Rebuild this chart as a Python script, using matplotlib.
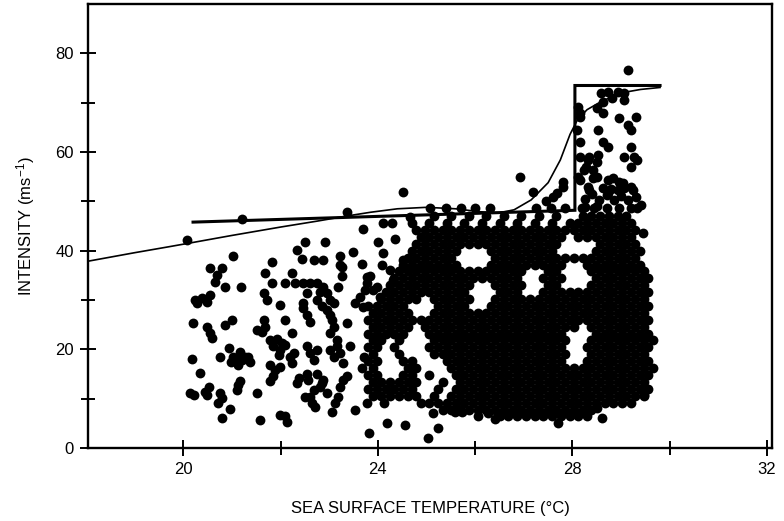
import numpy as np
import matplotlib.pyplot as plt

plt.rcParams['font.family'] = ['Liberation Sans', 'DejaVu Sans']
plt.rcParams['mathtext.default'] = 'regular'

# scattered storms on the cool side (SST, intensity)
cool_pts = [
    (20.08, 42.2), (21.21, 46.4), (23.37, 47.9), (24.52, 52.0), (21.03, 38.9),
    (21.82, 37.8), (22.34, 40.2), (22.50, 41.8), (22.45, 38.3), (22.92, 41.8),
    (22.68, 38.1), (22.88, 38.1), (23.23, 38.9), (23.49, 39.8), (23.27, 36.7),
    (23.67, 37.3), (23.70, 44.4), (24.00, 41.8), (24.36, 42.4), (24.11, 45.6),
    (24.30, 45.6), (24.67, 46.9), (24.09, 37.1), (24.25, 36.1), (24.11, 39.6),
    (23.78, 34.7), (23.90, 32.0), (24.32, 34.1), (24.52, 38.1),
    (20.55, 36.4), (20.79, 36.4), (20.69, 35.1), (20.65, 33.7), (20.86, 32.7),
    (21.18, 32.6), (20.24, 30.0), (20.38, 30.4), (20.55, 31.0), (20.48, 29.7),
    (20.28, 29.3), (20.19, 25.3), (20.48, 24.6), (20.55, 23.3), (20.59, 22.3),
    (20.86, 24.9), (21.00, 26.0), (20.17, 18.0), (20.35, 15.3), (20.76, 18.4),
    (20.93, 20.2), (21.03, 18.5), (21.17, 19.5), (21.27, 18.5), (21.37, 17.5),
    (21.13, 16.8), (20.99, 17.5), (21.20, 17.9), (21.10, 18.2), (21.34, 18.5),
    (20.14, 11.1), (20.21, 10.7), (20.45, 11.4), (20.48, 10.7), (20.52, 12.4),
    (20.76, 11.1), (20.79, 10.1), (20.72, 9.1), (20.96, 8.0), (20.79, 6.0),
    (21.13, 12.8), (21.17, 13.5), (21.10, 11.8), (21.52, 11.1), (21.57, 5.7),
    (21.99, 6.7), (22.09, 6.4), (22.13, 5.3), (21.68, 35.4), (21.82, 33.4),
    (21.65, 31.4), (21.72, 30.0), (21.99, 29.0), (22.09, 25.9), (21.51, 23.9),
    (21.65, 26.0), (21.68, 24.6), (21.61, 23.6), (22.23, 35.4), (22.09, 33.4),
    (22.30, 33.4), (22.23, 23.3), (21.79, 21.9), (21.92, 22.2), (21.85, 20.6),
    (22.03, 21.2), (21.99, 19.9), (22.09, 20.9), (21.96, 18.9), (21.79, 16.8),
    (21.89, 15.8), (21.99, 16.5), (21.85, 14.5), (21.79, 13.5), (22.20, 18.5),
    (22.23, 17.2), (22.27, 19.2), (22.37, 14.1), (22.33, 13.1), (22.54, 15.1),
    (22.57, 13.8), (22.51, 10.4), (22.64, 9.1), (22.71, 8.4), (22.54, 20.6),
    (22.61, 19.2), (22.68, 17.9), (22.75, 19.9), (22.47, 33.4), (22.61, 33.4),
    (22.75, 33.4), (22.88, 32.7), (22.95, 31.4), (23.02, 30.0), (22.81, 31.7),
    (22.75, 30.0), (22.54, 31.4), (22.47, 29.3), (22.47, 28.3), (22.54, 27.0),
    (22.95, 28.0), (23.05, 26.0), (23.09, 24.6), (23.02, 27.0), (22.85, 28.7),
    (23.09, 29.3), (22.61, 25.6), (23.19, 32.7), (23.26, 34.8), (23.23, 37.1),
    (23.84, 34.8), (23.77, 33.4), (23.74, 32.0), (23.64, 30.7), (23.53, 29.3),
    (23.98, 32.7), (23.36, 25.3), (23.43, 20.6), (23.02, 23.3), (23.16, 21.9),
    (23.23, 19.2), (23.29, 17.2), (23.09, 18.5), (23.02, 19.9), (23.16, 20.6),
    (22.75, 15.1), (22.88, 13.8), (22.81, 12.4), (22.68, 11.8), (22.61, 10.4),
    (22.95, 11.1), (22.85, 13.1), (23.29, 13.8), (23.36, 14.5), (23.23, 12.4),
    (23.19, 10.4), (23.12, 9.1), (23.05, 7.4), (23.53, 7.7), (23.77, 9.1),
    (24.12, 9.1), (23.71, 18.5), (23.67, 16.3), (23.70, 28.6), (24.05, 30.6),
]

# stragglers under the dense block
low_pts = [
    (24.19, 5.0), (24.56, 4.7), (23.81, 3.0), (25.04, 2.0), (25.24, 4.1),
    (25.14, 7.1), (25.58, 7.3), (25.72, 7.3), (26.05, 6.5), (26.27, 7.1),
    (26.40, 5.9), (27.70, 5.1), (28.50, 8.1), (28.60, 6.1), (29.46, 10.8),
]

# warm side above the dense block
warm_pts = [
    (29.15, 76.7), (28.58, 72.0), (28.72, 72.2), (28.93, 72.2), (29.05, 72.0),
    (28.62, 70.2), (28.82, 71.0), (29.05, 70.6), (28.12, 69.2), (28.16, 68.0),
    (28.51, 69.0), (28.62, 68.0), (28.95, 66.9), (29.30, 67.1), (29.15, 65.5),
    (29.20, 64.5), (28.53, 64.5), (28.10, 64.5), (28.16, 62.1), (28.62, 62.1),
    (28.72, 61.1), (28.53, 59.4), (29.20, 61.1), (29.05, 59.0), (29.26, 59.0),
    (29.20, 57.0), (29.33, 58.4), (28.33, 59.0), (28.27, 57.0), (28.50, 58.0),
    (28.43, 56.4), (28.12, 55.0), (28.43, 54.8), (28.62, 52.7), (28.33, 52.3),
    (28.74, 54.4), (28.84, 54.8), (29.03, 53.8), (29.20, 52.9), (28.93, 52.3),
    (28.72, 51.7), (29.33, 48.7), (29.44, 43.6), (28.16, 67.1), (28.16, 59.0),
    (28.31, 58.4), (28.23, 56.4), (28.16, 54.4), (28.31, 52.9), (28.51, 55.0),
    (28.25, 50.5), (28.40, 51.5), (28.55, 50.2), (28.70, 51.2), (28.85, 50.3),
    (29.00, 51.0), (29.15, 50.2), (29.30, 50.8), (28.80, 52.5), (29.05, 52.8),
    (29.25, 52.3), (28.95, 54.0), (28.25, 48.9), (28.50, 49.0), (29.40, 49.3),
    (27.18, 52.0), (26.93, 55.0), (27.60, 50.9), (27.69, 51.7), (27.80, 52.9),
    (27.81, 54.0), (27.45, 50.0),
]

# the solid mass of points, read row by row (intensity, SSTs)
dense_rows = [
    (6.4, [26.50, 26.68, 26.86, 27.04, 27.22, 27.40, 27.58, 27.76, 27.94, 28.12, 28.30]),
    (7.8, [25.33, 25.51, 25.69, 25.87, 26.05, 26.23, 26.41, 26.59, 26.77, 26.95, 27.13, 27.31,
           27.49, 27.67, 27.85, 28.03, 28.21, 28.39]),
    (9.2, [24.88, 25.06, 25.24, 25.42, 25.60, 25.78, 25.96, 26.14, 26.32, 26.50, 26.68, 26.86,
           27.04, 27.22, 27.40, 27.58, 27.76, 27.94, 28.12, 28.30, 28.48, 28.66, 28.84, 29.02, 29.20]),
    (10.6, [23.89, 24.07, 24.25, 24.43, 24.61, 24.79, 25.15, 25.51, 25.69, 25.87, 26.05, 26.23,
            26.41, 26.59, 26.77, 26.95, 27.13, 27.31, 27.49, 27.67, 27.85, 28.03, 28.21, 28.39,
            28.57, 28.75, 28.93, 29.11, 29.29, 29.47]),
    (12.0, [23.80, 23.98, 24.16, 24.34, 24.52, 24.70, 25.24, 25.60, 25.78, 25.96, 26.14, 26.32,
            26.50, 26.68, 26.86, 27.04, 27.22, 27.40, 27.58, 27.76, 27.94, 28.12, 28.30, 28.48,
            28.66, 28.84, 29.02, 29.20, 29.38, 29.56]),
    (13.4, [23.89, 24.07, 24.25, 24.43, 24.61, 24.79, 25.33, 25.69, 25.87, 26.05, 26.23, 26.41,
            26.59, 26.77, 26.95, 27.13, 27.31, 27.49, 27.67, 27.85, 28.03, 28.21, 28.39, 28.57,
            28.75, 28.93, 29.11, 29.29, 29.47]),
    (14.8, [23.80, 23.98, 24.52, 24.70, 25.06, 25.60, 25.78, 25.96, 26.14, 26.32, 26.50, 26.68,
            26.86, 27.04, 27.22, 27.40, 27.58, 27.76, 27.94, 28.12, 28.30, 28.48, 28.66, 28.84,
            29.02, 29.20, 29.38, 29.56]),
    (16.2, [23.89, 24.61, 24.79, 25.51, 25.69, 25.87, 26.05, 26.23, 26.41, 26.59, 26.77, 26.95,
            27.13, 27.31, 27.49, 27.67, 27.85, 28.03, 28.21, 28.39, 28.57, 28.75, 28.93, 29.11,
            29.29, 29.47, 29.65]),
    (17.6, [23.80, 23.98, 24.52, 24.70, 25.42, 25.60, 25.78, 25.96, 26.14, 26.32, 26.50, 26.68,
            26.86, 27.04, 27.22, 27.40, 27.58, 27.76, 28.30, 28.48, 28.66, 28.84, 29.02, 29.20,
            29.38, 29.56]),
    (19.0, [23.89, 24.43, 25.15, 25.33, 25.51, 25.69, 25.87, 26.05, 26.23, 26.41, 26.59, 26.77,
            26.95, 27.13, 27.31, 27.49, 27.67, 27.85, 28.39, 28.57, 28.75, 28.93, 29.11, 29.29,
            29.47]),
    (20.4, [23.80, 23.98, 24.34, 25.06, 25.24, 25.42, 25.60, 25.78, 25.96, 26.14, 26.32, 26.50,
            26.68, 26.86, 27.04, 27.22, 27.40, 27.58, 27.76, 28.30, 28.48, 28.66, 28.84, 29.02,
            29.20, 29.38, 29.56]),
    (21.8, [23.89, 24.07, 24.43, 25.15, 25.33, 25.51, 25.69, 25.87, 26.05, 26.23, 26.41, 26.59,
            26.77, 26.95, 27.13, 27.31, 27.49, 27.67, 27.85, 28.39, 28.57, 28.75, 28.93, 29.11,
            29.29, 29.47, 29.65]),
    (23.2, [23.80, 23.98, 24.16, 24.34, 24.52, 25.06, 25.24, 25.42, 25.60, 25.78, 25.96, 26.14,
            26.32, 26.50, 26.68, 26.86, 27.04, 27.22, 27.40, 27.58, 27.76, 28.48, 28.66, 28.84,
            29.02, 29.20, 29.38, 29.56]),
    (24.6, [23.89, 24.07, 24.25, 24.43, 24.61, 24.97, 25.15, 25.33, 25.51, 25.69, 25.87, 26.05,
            26.23, 26.41, 26.59, 26.77, 26.95, 27.13, 27.31, 27.49, 27.67, 27.85, 28.03, 28.39,
            28.57, 28.75, 28.93, 29.11, 29.29, 29.47]),
    (26.0, [23.80, 23.98, 24.16, 24.34, 24.52, 24.70, 24.88, 25.06, 25.24, 25.42, 25.60, 25.78,
            25.96, 26.14, 26.32, 26.50, 26.68, 26.86, 27.04, 27.22, 27.40, 27.58, 27.76, 27.94,
            28.12, 28.30, 28.48, 28.66, 28.84, 29.02, 29.20, 29.38, 29.56]),
    (27.4, [23.89, 24.07, 24.25, 24.43, 24.61, 25.15, 25.33, 25.51, 25.69, 25.87, 26.05, 26.23,
            26.41, 26.59, 26.77, 26.95, 27.13, 27.31, 27.49, 27.67, 27.85, 28.03, 28.21, 28.39,
            28.57, 28.75, 28.93, 29.11, 29.29, 29.47]),
    (28.8, [23.80, 23.98, 24.16, 24.34, 24.52, 25.24, 25.42, 25.60, 25.78, 26.32, 26.50, 26.68,
            26.86, 27.04, 27.22, 27.40, 27.58, 27.76, 27.94, 28.12, 28.30, 28.48, 28.66, 28.84,
            29.02, 29.20, 29.38, 29.56]),
    (30.2, [24.07, 24.25, 24.43, 24.61, 24.79, 25.15, 25.33, 25.51, 25.69, 25.87, 26.41, 26.59,
            26.77, 26.95, 27.13, 27.31, 27.49, 27.67, 27.85, 28.03, 28.21, 28.39, 28.57, 28.75,
            28.93, 29.11, 29.29, 29.47]),
    (31.6, [24.16, 24.34, 24.52, 24.70, 24.88, 25.06, 25.24, 25.42, 25.60, 25.78, 26.50, 26.68,
            26.86, 27.40, 27.58, 27.76, 27.94, 28.12, 28.30, 28.48, 28.66, 28.84, 29.02, 29.20,
            29.38, 29.56]),
    (33.0, [24.25, 24.43, 24.61, 24.79, 24.97, 25.15, 25.33, 25.51, 25.69, 25.87, 26.41, 26.59,
            26.77, 26.95, 27.49, 27.67, 28.39, 28.57, 28.75, 28.93, 29.11, 29.29, 29.47]),
    (34.4, [24.34, 24.52, 24.70, 24.88, 25.06, 25.24, 25.42, 25.60, 25.78, 25.96, 26.14, 26.32,
            26.50, 26.68, 26.86, 27.40, 27.58, 27.76, 28.48, 28.66, 28.84, 29.02, 29.20, 29.38,
            29.56]),
    (35.8, [24.43, 24.61, 24.79, 24.97, 25.15, 25.33, 25.51, 25.69, 25.87, 26.05, 26.23, 26.41,
            26.59, 26.77, 26.95, 27.49, 27.67, 28.39, 28.57, 28.75, 28.93, 29.11, 29.29, 29.47]),
    (37.2, [24.52, 24.70, 24.88, 25.06, 25.24, 25.42, 25.60, 26.32, 26.50, 26.68, 26.86, 27.04,
            27.22, 27.40, 27.58, 27.76, 28.30, 28.48, 28.66, 28.84, 29.02, 29.20, 29.38]),
    (38.6, [24.61, 24.79, 24.97, 25.15, 25.33, 25.51, 26.41, 26.59, 26.77, 26.95, 27.13, 27.31,
            27.49, 27.67, 27.85, 28.03, 28.21, 28.39, 28.57, 28.75, 28.93, 29.11, 29.29]),
    (40.0, [24.70, 24.88, 25.06, 25.24, 25.42, 25.60, 26.32, 26.50, 26.68, 26.86, 27.04, 27.22,
            27.40, 27.58, 28.48, 28.66, 28.84, 29.02, 29.20, 29.38]),
    (41.4, [24.79, 24.97, 25.15, 25.33, 25.51, 25.69, 25.87, 26.05, 26.23, 26.41, 26.59, 26.77,
            26.95, 27.13, 27.31, 27.49, 27.67, 28.57, 28.75, 28.93, 29.11, 29.29]),
    (42.8, [24.88, 25.06, 25.24, 25.42, 25.60, 25.78, 25.96, 26.14, 26.32, 26.50, 26.68, 26.86,
            27.04, 27.22, 27.40, 27.58, 27.76, 28.12, 28.30, 28.48, 28.66, 28.84, 29.02, 29.20]),
    (44.2, [24.79, 24.97, 25.15, 25.33, 25.51, 25.69, 25.87, 26.05, 26.23, 26.41, 26.59, 26.77,
            26.95, 27.13, 27.31, 27.49, 27.67, 27.85, 28.03, 28.21, 28.39, 28.57, 28.75, 28.93,
            29.11, 29.29]),
    (45.6, [24.70, 25.06, 25.42, 25.78, 26.14, 26.50, 26.86, 27.22, 27.58, 27.94, 28.12, 28.30,
            28.48, 28.66, 28.84, 29.02, 29.20]),
    (47.0, [25.15, 25.51, 25.87, 26.23, 26.59, 26.95, 27.31, 27.67, 28.21, 28.39, 28.57, 28.75,
            28.93, 29.11]),
    (48.6, [25.08, 25.40, 25.70, 26.00, 26.30, 27.25, 27.55, 27.85, 28.20, 28.45, 28.70, 28.95,
            29.20]),
]

# fitted curve and the step-shaped bound
mpi_x = [18.0, 19.0, 19.7, 20.1, 21.0, 22.0, 22.75, 23.4, 23.85, 24.4, 25.0, 25.6, 26.1,
         26.5, 26.8, 27.15, 27.5, 27.75, 27.95, 28.1, 28.3, 28.6, 29.0, 29.4, 29.8]
mpi_y = [37.8, 39.6, 40.8, 41.5, 43.1, 44.8, 46.0, 47.1, 47.8, 48.5, 48.8, 48.5, 47.9,
         47.7, 48.3, 50.3, 53.8, 58.4, 63.6, 66.5, 68.6, 70.3, 72.0, 72.7, 73.1]
step_x = [20.2, 28.05, 28.05, 29.8]
step_y = [45.8, 48.2, 73.5, 73.5]

sst = [p[0] for p in cool_pts + low_pts + warm_pts]
vmax = [p[1] for p in cool_pts + low_pts + warm_pts]
for y, xs in dense_rows:
    sst += xs
    vmax += [y] * len(xs)

fig = plt.figure(figsize=(7.84, 5.21), dpi=100)
ax = fig.add_axes([0.1122, 0.1401, 0.8724, 0.852])

ax.scatter(sst, vmax, s=50, c='black', linewidths=0)
ax.plot(mpi_x, mpi_y, color='black', lw=1.2)
ax.plot(step_x, step_y, color='black', lw=2.2, solid_joinstyle='miter')

ax.set_xlim(18.04, 32.1)
ax.set_ylim(0, 90)
ax.set_xticks([20, 24, 28, 32])
ax.set_xticks([22, 26, 30], minor=True)
ax.set_yticks([0, 20, 40, 60, 80])
ax.set_yticks([10, 30, 50, 70], minor=True)
ax.tick_params(which='both', direction='inout', width=1.4, labelsize=12,
               top=False, right=False)
ax.tick_params(which='major', length=12, pad=4)
ax.tick_params(which='minor', length=10)
for sp in ax.spines.values():
    sp.set_linewidth(1.7)

ax.set_xlabel('SEA SURFACE TEMPERATURE (°C)', fontsize=12, labelpad=17)
ax.set_ylabel('INTENSITY (ms$^{-1}$)', fontsize=12)
ax.yaxis.set_label_coords(-0.075, 0.5)

fig.savefig('out.png', dpi=100)
